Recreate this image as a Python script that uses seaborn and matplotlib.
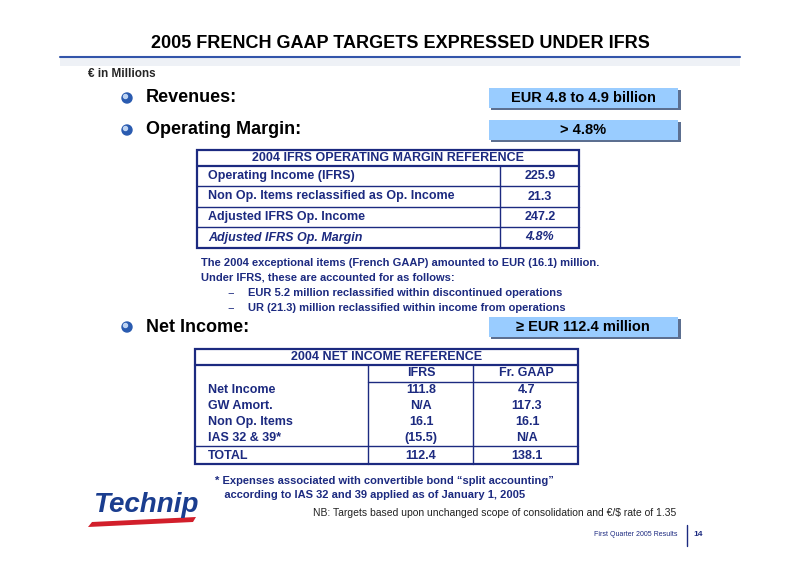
import matplotlib
matplotlib.use("Agg")
import matplotlib.pyplot as plt
import seaborn as sns
from matplotlib.patches import Rectangle, Circle

sns.set_theme(style="white")
plt.rcParams['font.family'] = ['Liberation Sans', 'DejaVu Sans']

title = "2005 FRENCH GAAP TARGETS EXPRESSED UNDER IFRS"
targets_labels = ["Revenues:", "Operating Margin:", "Net Income:"]
targets_values = ["EUR 4.8 to 4.9 billion", "> 4.8%", "≥ EUR 112.4 million"]

om_header = "2004 IFRS OPERATING MARGIN REFERENCE"
om_rows = ["Operating Income (IFRS)", "Non Op. Items reclassified as Op. Income",
           "Adjusted IFRS Op. Income", "Adjusted IFRS Op. Margin"]
om_values = ["225.9", "21.3", "247.2", "4.8%"]

notes = ["The 2004 exceptional items (French GAAP) amounted to EUR (16.1) million.",
         "Under IFRS, these are accounted for as follows:"]
bullets = ["EUR 5.2 million reclassified within discontinued operations",
           "UR (21.3) million reclassified within income from operations"]

ni_header = "2004 NET INCOME REFERENCE"
ni_cols = ["IFRS", "Fr. GAAP"]
ni_rows = ["Net Income", "GW Amort.", "Non Op. Items", "IAS 32 & 39*", "TOTAL"]
ni_ifrs = ["111.8", "N/A", "16.1", "(15.5)", "112.4"]
ni_gaap = ["4.7", "117.3", "16.1", "N/A", "138.1"]

footnote = ["* Expenses associated with convertible bond “split accounting”",
            "   according to IAS 32 and 39 applied as of January 1, 2005"]
nb = "NB: Targets based upon unchanged scope of consolidation and €/$ rate of 1.35"

navy = "#1C2A80"
lw_tab = 1.6
fs_t = 9
fig = plt.figure(figsize=(8, 5.65), dpi=100)
ax = fig.add_axes([0, 0, 1, 1])
ax.set_xlim(0, 800); ax.set_ylim(565, 0); ax.axis("off")

ax.text(400, 43, title, ha="center", va="center", fontsize=13, fontweight="bold", color="black")
ax.plot([60, 740], [57, 57], color="#3355AA", lw=1.5)
ax.add_patch(Rectangle((60, 58), 680, 8, color="#EEF1F6", lw=0))
ax.text(88, 74, "€ in Millions", ha="left", va="center", fontsize=8.5, fontweight="bold")

ty = [98, 130, 327]
for lab, val, y in zip(targets_labels, targets_values, ty):
    ax.add_patch(Circle((127, y), 5, color="#2A5BB0"))
    ax.add_patch(Circle((125.5, y - 1.5), 2, color="#BFD4F2"))
    ax.text(146, y, lab, ha="left", va="center", fontsize=13, fontweight="bold", color="black")
    ax.add_patch(Rectangle((491, y - 8), 190, 20, color="#5C6F90", lw=0))
    ax.add_patch(Rectangle((489, y - 10), 189, 20, color="#99CCFF", lw=0))
    ax.text(583, y, val, ha="center", va="center", fontsize=10.5, fontweight="bold", color="black")

x0, x1, xc = 197, 579, 500
ys = [150, 166, 186, 207, 227, 248]
ax.add_patch(Rectangle((x0, ys[0]), x1 - x0, ys[-1] - ys[0], fill=False, ec=navy, lw=lw_tab))
for y in ys[1:-1]:
    ax.plot([x0, x1], [y, y], color=navy, lw=lw_tab if y == ys[1] else 1.0)
ax.plot([xc, xc], [ys[1], ys[-1]], color=navy, lw=1.0)
ax.text((x0 + x1) / 2, 158, om_header, ha="center", va="center", fontsize=fs_t, fontweight="bold", color=navy)
for i, (r, v) in enumerate(zip(om_rows, om_values)):
    yy = (ys[i + 1] + ys[i + 2]) / 2
    st = "italic" if i == 3 else "normal"
    ax.text(208, yy, r, ha="left", va="center", fontsize=fs_t, fontweight="bold", style=st, color=navy)
    ax.text(540, yy, v, ha="center", va="center", fontsize=fs_t, fontweight="bold", style=st, color=navy)

ax.text(201, 263, notes[0], ha="left", va="center", fontsize=8, fontweight="bold", color=navy)
ax.text(201, 278, notes[1], ha="left", va="center", fontsize=8, fontweight="bold", color=navy)
for i, b in enumerate(bullets):
    ax.text(231, 293 + 15 * i, "−", ha="center", va="center", fontsize=8, color=navy)
    ax.text(248, 293 + 15 * i, b, ha="left", va="center", fontsize=8, fontweight="bold", color=navy)

x0, x1, c1, c2 = 195, 578, 368, 473
ax.add_patch(Rectangle((x0, 349), x1 - x0, 464 - 349, fill=False, ec=navy, lw=lw_tab))
ax.plot([x0, x1], [365, 365], color=navy, lw=lw_tab)
ax.plot([c1, x1], [382, 382], color=navy, lw=1.0)
ax.plot([x0, x1], [446, 446], color=navy, lw=1.0)
for c in (c1, c2):
    ax.plot([c, c], [365, 464], color=navy, lw=1.0)
ax.text((x0 + x1) / 2, 357, ni_header, ha="center", va="center", fontsize=fs_t, fontweight="bold", color=navy)
ax.text(421, 373, ni_cols[0], ha="center", va="center", fontsize=fs_t, fontweight="bold", color=navy)
ax.text(526, 373, ni_cols[1], ha="center", va="center", fontsize=fs_t, fontweight="bold", color=navy)
rys = [390, 406, 422, 438, 456]
for r, a, b, yy in zip(ni_rows, ni_ifrs, ni_gaap, rys):
    ax.text(208, yy, r, ha="left", va="center", fontsize=fs_t, fontweight="bold", color=navy)
    ax.text(421, yy, a, ha="center", va="center", fontsize=fs_t, fontweight="bold", color=navy)
    ax.text(527, yy, b, ha="center", va="center", fontsize=fs_t, fontweight="bold", color=navy)

ax.text(215, 481, footnote[0], ha="left", va="center", fontsize=8, fontweight="bold", color=navy)
ax.text(215, 495, footnote[1], ha="left", va="center", fontsize=8, fontweight="bold", color=navy)
ax.text(313, 513, nb, ha="left", va="center", fontsize=7.5, color="#222222")

ax.text(146, 505, "Technip", ha="center", va="center", fontsize=20, fontweight="bold",
        style="italic", color="#1A3D8F")
ax.fill([92, 196, 193, 88], [522, 517, 522, 527], color="#D21F2B", lw=0)

ax.text(678, 534, "First Quarter 2005 Results", ha="right", va="center", fontsize=5, color=navy)
ax.plot([687, 687], [525, 546], color=navy, lw=1)
ax.text(693, 534, "14", ha="left", va="center", fontsize=6, fontweight="bold", color=navy)

fig.savefig("out.png", dpi=100)
